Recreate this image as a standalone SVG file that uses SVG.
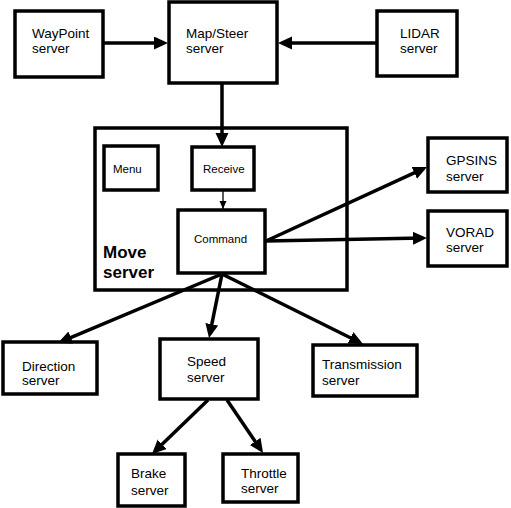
<svg xmlns="http://www.w3.org/2000/svg" width="511" height="508" viewBox="0 0 511 508">
<style>
.box{fill:#fff;stroke:#000;stroke-width:3.5}
.t{font-family:"Liberation Sans",Arial,sans-serif;font-size:13.5px;fill:#000}
.s{font-family:"Liberation Sans",Arial,sans-serif;font-size:11.5px;fill:#000}
.b{font-family:"Liberation Sans",Arial,sans-serif;font-size:17px;font-weight:bold;fill:#000}
.c{stroke:#000;stroke-width:3.5;fill:none;marker-end:url(#ah)}
.thin{stroke:#000;stroke-width:1.3;fill:none;marker-end:url(#sh)}
</style>
<defs>
<marker id="ah" markerUnits="userSpaceOnUse" markerWidth="15" markerHeight="14" refX="10" refY="6.5" orient="auto"><path d="M0,0 L14,6.5 L0,13 z" fill="#000"/></marker>
<marker id="sh" markerUnits="userSpaceOnUse" markerWidth="9" markerHeight="8" refX="8" refY="3.5" orient="auto"><path d="M0,0 L8,3.5 L0,7 z" fill="#000"/></marker>
</defs>
<rect width="511" height="508" fill="#fff"/>
<g id="move">
<rect class="box" x="95" y="128" width="252" height="162"/>
<text class="b" x="103" y="258">Move</text>
<text class="b" x="103" y="278">server</text>
</g>
<g id="waypoint"><rect class="box" x="15" y="11" width="88" height="66"/><text class="t" x="32" y="38">WayPoint</text><text class="t" x="32" y="53">server</text></g>
<g id="mapsteer"><rect class="box" x="169" y="2" width="108" height="81"/><text class="t" x="186" y="38">Map/Steer</text><text class="t" x="186" y="53">server</text></g>
<g id="lidar"><rect class="box" x="377" y="11" width="80" height="65"/><text class="t" x="400" y="38">LIDAR</text><text class="t" x="400" y="53">server</text></g>
<g id="menu"><rect class="box" x="104" y="146" width="54" height="44"/><text class="s" x="113" y="173">Menu</text></g>
<g id="receive"><rect class="box" x="192" y="147" width="62" height="43"/><text class="s" x="203" y="173">Receive</text></g>
<g id="command"><rect class="box" x="178" y="210" width="87" height="63"/><text class="s" x="194" y="243">Command</text></g>
<g id="gpsins"><rect class="box" x="428" y="138" width="79" height="54"/><text class="t" x="446" y="165">GPSINS</text><text class="t" x="446" y="181">server</text></g>
<g id="vorad"><rect class="box" x="428" y="211" width="79" height="55"/><text class="t" x="446" y="237">VORAD</text><text class="t" x="446" y="252">server</text></g>
<g id="direction"><rect class="box" x="3" y="342" width="94" height="52"/><text class="t" x="22" y="371">Direction</text><text class="t" x="22" y="385">server</text></g>
<g id="speed"><rect class="box" x="160" y="339" width="98" height="60"/><text class="t" x="187" y="366">Speed</text><text class="t" x="187" y="382">server</text></g>
<g id="transmission"><rect class="box" x="313" y="345" width="104" height="51"/><text class="t" x="322" y="369">Transmission</text><text class="t" x="322" y="385">server</text></g>
<g id="brake"><rect class="box" x="118" y="454" width="67" height="52"/><text class="t" x="131" y="478">Brake</text><text class="t" x="131" y="495">server</text></g>
<g id="throttle"><rect class="box" x="223" y="454" width="75" height="48"/><text class="t" x="241" y="478">Throttle</text><text class="t" x="241" y="493">server</text></g>
<g id="connectors">
<line class="c" x1="103" y1="43" x2="164" y2="43"/>
<line class="c" x1="377" y1="43" x2="282" y2="43"/>
<line class="c" x1="222" y1="83" x2="222" y2="143"/>
<line class="thin" x1="223" y1="190" x2="223" y2="209"/>
<line class="c" x1="266" y1="241" x2="423.4" y2="168.7"/>
<line class="c" x1="266" y1="241" x2="423" y2="238.1"/>
<line class="c" x1="222" y1="274" x2="61.7" y2="341.4"/>
<line class="c" x1="222" y1="274" x2="209.8" y2="334.1"/>
<line class="c" x1="222" y1="274" x2="359.4" y2="342.2"/>
<line class="c" x1="208" y1="400" x2="154.9" y2="451.2"/>
<line class="c" x1="227" y1="400" x2="260.8" y2="449.7"/>
</g>
</svg>
